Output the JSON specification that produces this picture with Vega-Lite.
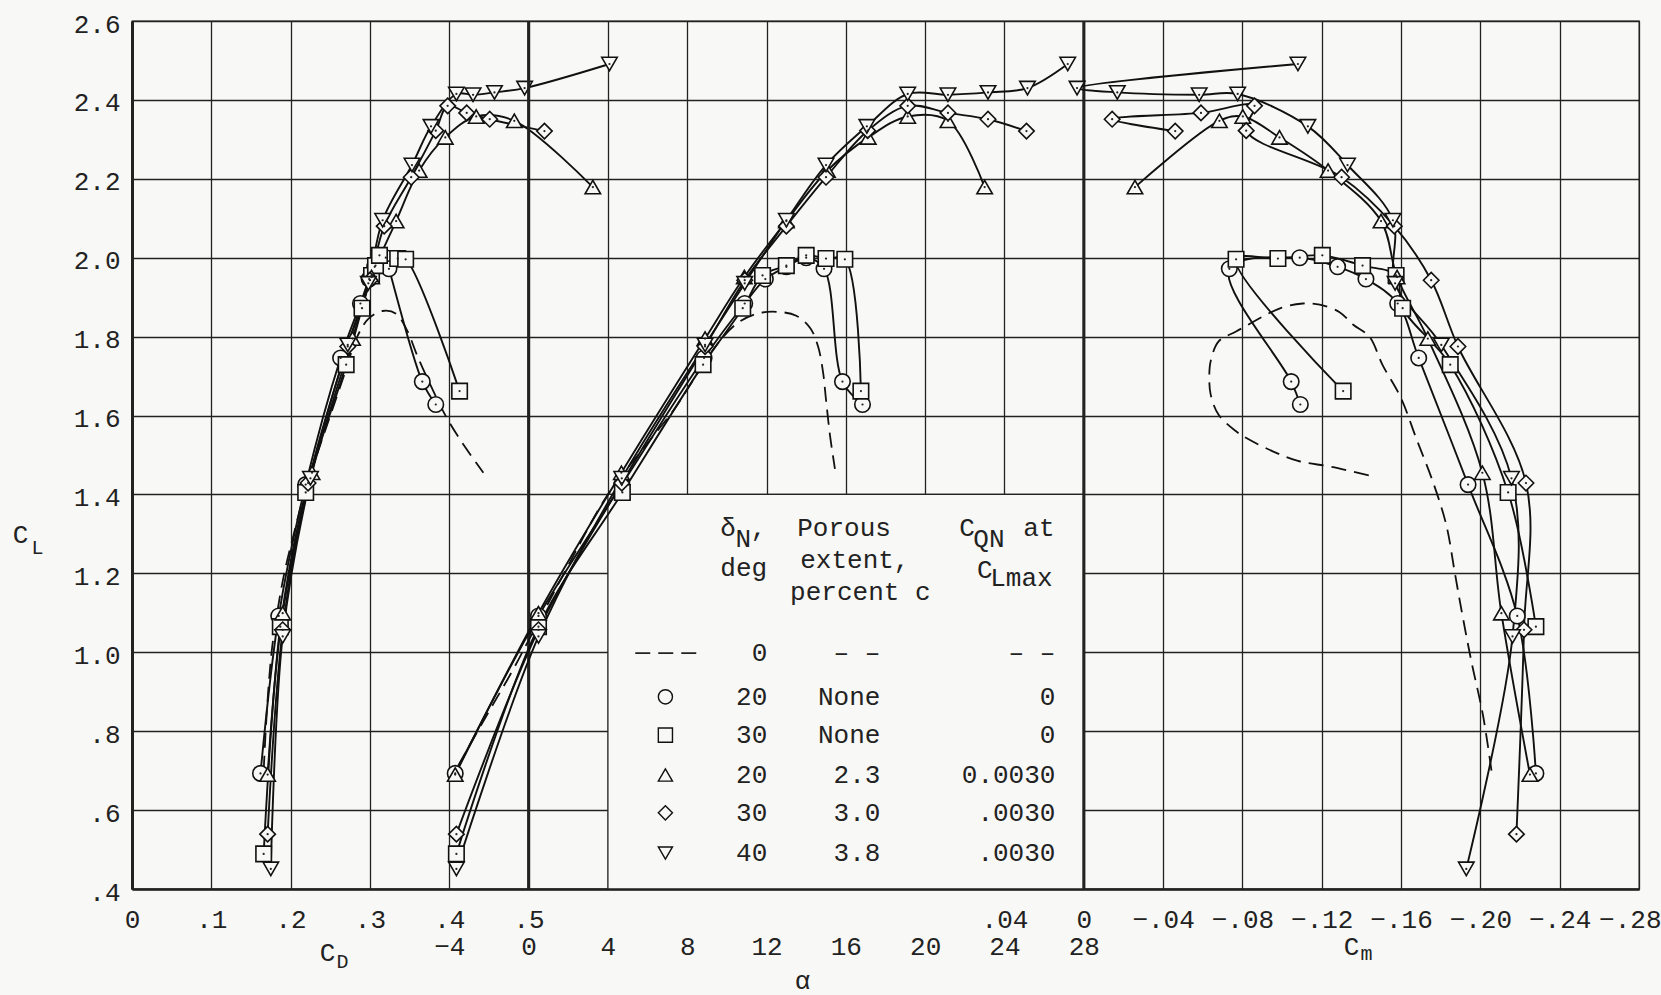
{
"$schema":"https://vega.github.io/schema/vega-lite/v6.json",
"width":1507,"height":868,
"autosize":{"type":"none"},
"padding":{"left":132,"top":21,"right":22,"bottom":106},
"background":"#f8f8f6",
"config":{
 "font":"Liberation Mono",
 "view":{"stroke":"#222","strokeWidth":1.3},
 "axis":{"labelFont":"Liberation Mono","titleFont":"Liberation Mono","labelFontSize":26,"titleFontSize":26,"labelColor":"#222","titleColor":"#222","titleFontWeight":"normal","ticks":false,"gridColor":"#222","gridWidth":1.3,"gridOpacity":1,"domainColor":"#222","labelFlush":false,"labelOverlap":false},
 "text":{"font":"Liberation Mono","fontSize":26,"color":"#222"}
},
"datasets":{
 "pts":[
  {"s":"20-none","a":-3.7,"cl":0.693,"cd":0.162,"cm":-0.228},
  {"s":"20-none","a":0.5,"cl":1.092,"cd":0.185,"cm":-0.2186},
  {"s":"20-none","a":4.7,"cl":1.425,"cd":0.219,"cm":-0.1938},
  {"s":"20-none","a":8.85,"cl":1.746,"cd":0.263,"cm":-0.1689},
  {"s":"20-none","a":10.9,"cl":1.884,"cd":0.288,"cm":-0.1583},
  {"s":"20-none","a":11.94,"cl":1.946,"cd":0.299,"cm":-0.1423},
  {"s":"20-none","a":13.0,"cl":1.977,"cd":0.306,"cm":-0.128},
  {"s":"20-none","a":14.0,"cl":2.0,"cd":0.32,"cm":-0.1089},
  {"s":"20-none","a":14.9,"cl":1.972,"cd":0.324,"cm":-0.0734},
  {"s":"20-none","a":15.83,"cl":1.686,"cd":0.366,"cm":-0.1046},
  {"s":"20-none","a":16.84,"cl":1.628,"cd":0.383,"cm":-0.1092},
  {"s":"30-none","a":-3.64,"cl":0.489,"cd":0.166,"cm":null},
  {"s":"30-none","a":0.5,"cl":1.065,"cd":0.187,"cm":-0.228},
  {"s":"30-none","a":4.73,"cl":1.405,"cd":0.219,"cm":-0.214},
  {"s":"30-none","a":8.8,"cl":1.729,"cd":0.27,"cm":-0.1848},
  {"s":"30-none","a":10.8,"cl":1.872,"cd":0.29,"cm":-0.1608},
  {"s":"30-none","a":11.8,"cl":1.955,"cd":0.302,"cm":-0.1575},
  {"s":"30-none","a":13.0,"cl":1.98,"cd":0.307,"cm":-0.1406},
  {"s":"30-none","a":14.0,"cl":2.006,"cd":0.312,"cm":-0.1203},
  {"s":"30-none","a":15.0,"cl":1.998,"cd":0.335,"cm":-0.0979},
  {"s":"30-none","a":15.95,"cl":1.996,"cd":0.345,"cm":-0.0768},
  {"s":"30-none","a":16.76,"cl":1.662,"cd":0.413,"cm":-0.1308},
  {"s":"20-2.3","a":-3.7,"cl":0.69,"cd":0.171,"cm":-0.225},
  {"s":"20-2.3","a":0.5,"cl":1.099,"cd":0.19,"cm":-0.2106},
  {"s":"20-2.3","a":4.68,"cl":1.455,"cd":0.227,"cm":-0.201},
  {"s":"20-2.3","a":8.9,"cl":1.795,"cd":0.278,"cm":-0.1735},
  {"s":"20-2.3","a":10.88,"cl":1.951,"cd":0.302,"cm":-0.158},
  {"s":"20-2.3","a":13.0,"cl":2.093,"cd":0.333,"cm":-0.1499},
  {"s":"20-2.3","a":15.07,"cl":2.221,"cd":0.362,"cm":-0.1232},
  {"s":"20-2.3","a":17.13,"cl":2.305,"cd":0.395,"cm":-0.0987},
  {"s":"20-2.3","a":19.12,"cl":2.358,"cd":0.434,"cm":-0.0802},
  {"s":"20-2.3","a":21.15,"cl":2.347,"cd":0.482,"cm":-0.0684},
  {"s":"20-2.3","a":23.0,"cl":2.179,"cd":0.581,"cm":-0.0258},
  {"s":"30-3.0","a":-3.64,"cl":0.539,"cd":0.171,"cm":-0.2182},
  {"s":"30-3.0","a":0.5,"cl":1.057,"cd":0.19,"cm":-0.222},
  {"s":"30-3.0","a":4.7,"cl":1.429,"cd":0.222,"cm":-0.223},
  {"s":"30-3.0","a":8.9,"cl":1.775,"cd":0.272,"cm":-0.1887},
  {"s":"30-3.0","a":10.9,"cl":1.943,"cd":0.3,"cm":-0.1752},
  {"s":"30-3.0","a":13.0,"cl":2.08,"cd":0.318,"cm":-0.1566},
  {"s":"30-3.0","a":15.0,"cl":2.204,"cd":0.352,"cm":-0.13},
  {"s":"30-3.0","a":17.1,"cl":2.322,"cd":0.383,"cm":-0.0819},
  {"s":"30-3.0","a":19.12,"cl":2.385,"cd":0.398,"cm":-0.0861},
  {"s":"30-3.0","a":21.15,"cl":2.367,"cd":0.422,"cm":-0.0591},
  {"s":"30-3.0","a":23.17,"cl":2.351,"cd":0.451,"cm":-0.0143},
  {"s":"30-3.0","a":25.11,"cl":2.321,"cd":0.52,"cm":-0.0461},
  {"s":"40-3.8","a":-3.64,"cl":0.451,"cd":0.175,"cm":-0.1929},
  {"s":"40-3.8","a":0.5,"cl":1.04,"cd":0.19,"cm":-0.2162},
  {"s":"40-3.8","a":4.7,"cl":1.441,"cd":0.225,"cm":-0.2157},
  {"s":"40-3.8","a":8.9,"cl":1.779,"cd":0.272,"cm":-0.1803},
  {"s":"40-3.8","a":10.9,"cl":1.935,"cd":0.298,"cm":-0.157},
  {"s":"40-3.8","a":13.0,"cl":2.095,"cd":0.316,"cm":-0.1559},
  {"s":"40-3.8","a":15.0,"cl":2.235,"cd":0.353,"cm":-0.133},
  {"s":"40-3.8","a":17.06,"cl":2.333,"cd":0.377,"cm":-0.113},
  {"s":"40-3.8","a":19.12,"cl":2.415,"cd":0.409,"cm":-0.0776},
  {"s":"40-3.8","a":21.15,"cl":2.413,"cd":0.43,"cm":-0.0582},
  {"s":"40-3.8","a":23.17,"cl":2.419,"cd":0.457,"cm":-0.0169},
  {"s":"40-3.8","a":25.16,"cl":2.43,"cd":0.495,"cm":0.0034},
  {"s":"40-3.8","a":27.19,"cl":2.491,"cd":0.602,"cm":-0.108}
 ],
 "dash":[
  {"i":1,"cd":0.166,"cl":0.70},{"i":2,"cd":0.170,"cl":0.85},{"i":3,"cd":0.176,"cl":1.0},{"i":4,"cd":0.183,"cl":1.1},
  {"i":5,"cd":0.192,"cl":1.2},{"i":6,"cd":0.204,"cl":1.3},{"i":7,"cd":0.217,"cl":1.4},{"i":8,"cd":0.233,"cl":1.5},
  {"i":9,"cd":0.250,"cl":1.6},{"i":10,"cd":0.267,"cl":1.7},{"i":11,"cd":0.284,"cl":1.8},{"i":12,"cd":0.298,"cl":1.845},
  {"i":13,"cd":0.316,"cl":1.865},{"i":14,"cd":0.333,"cl":1.858},{"i":15,"cd":0.347,"cl":1.815},{"i":16,"cd":0.360,"cl":1.75},
  {"i":17,"cd":0.378,"cl":1.67},{"i":18,"cd":0.398,"cl":1.59},{"i":19,"cd":0.42,"cl":1.52},{"i":20,"cd":0.443,"cl":1.455},
  {"i":1,"a":-3.56,"cl":0.712},{"i":2,"a":-2,"cl":0.85},{"i":3,"a":-0.85,"cl":0.95},{"i":4,"a":0,"cl":1.03},
  {"i":5,"a":2,"cl":1.22},{"i":6,"a":4,"cl":1.40},{"i":7,"a":6,"cl":1.53},{"i":8,"a":7.4,"cl":1.62},
  {"i":9,"a":8.3,"cl":1.69},{"i":10,"a":9.5,"cl":1.78},{"i":11,"a":10.5,"cl":1.833},{"i":12,"a":11.5,"cl":1.858},
  {"i":13,"a":12.5,"cl":1.863},{"i":14,"a":13.5,"cl":1.853},{"i":15,"a":14.2,"cl":1.822},{"i":16,"a":14.6,"cl":1.775},
  {"i":17,"a":14.85,"cl":1.71},{"i":18,"a":15.0,"cl":1.64},{"i":19,"a":15.2,"cl":1.55},{"i":20,"a":15.45,"cl":1.465},
  {"i":1,"cm":-0.2056,"cl":0.70},{"i":2,"cm":-0.2013,"cl":0.841},{"i":3,"cm":-0.1955,"cl":0.976},{"i":4,"cm":-0.19,"cl":1.12},
  {"i":5,"cm":-0.187,"cl":1.205},{"i":6,"cm":-0.1828,"cl":1.323},{"i":7,"cm":-0.176,"cl":1.433},{"i":8,"cm":-0.1676,"cl":1.543},
  {"i":9,"cm":-0.16,"cl":1.644},{"i":10,"cm":-0.1507,"cl":1.728},{"i":11,"cm":-0.144,"cl":1.80},{"i":12,"cm":-0.1359,"cl":1.83},
  {"i":13,"cm":-0.129,"cl":1.862},{"i":14,"cm":-0.119,"cl":1.881},{"i":15,"cm":-0.1105,"cl":1.884},{"i":16,"cm":-0.0996,"cl":1.873},
  {"i":17,"cm":-0.0768,"cl":1.813},{"i":18,"cm":-0.068,"cl":1.788},{"i":19,"cm":-0.064,"cl":1.738},{"i":20,"cm":-0.0633,"cl":1.704},
  {"i":21,"cm":-0.064,"cl":1.653},{"i":22,"cm":-0.068,"cl":1.602},{"i":23,"cm":-0.0768,"cl":1.56},{"i":24,"cm":-0.082,"cl":1.543},
  {"i":25,"cm":-0.095,"cl":1.51},{"i":26,"cm":-0.108,"cl":1.485},{"i":27,"cm":-0.125,"cl":1.47},{"i":28,"cm":-0.145,"cl":1.447}
 ],
 "legend":[
  {"s":"0","cl":0.998,"dn":"0","pe":"– –","cq":"– –\u00a0"},
  {"s":"20-none","cl":0.887,"dn":"20","pe":"None","cq":"0\u00a0\u00a0"},
  {"s":"30-none","cl":0.79,"dn":"30","pe":"None","cq":"0\u00a0\u00a0"},
  {"s":"20-2.3","cl":0.689,"dn":"20","pe":"2.3","cq":"0.0030"},
  {"s":"30-3.0","cl":0.593,"dn":"30","pe":"3.0","cq":".0030"},
  {"s":"40-3.8","cl":0.491,"dn":"40","pe":"3.8","cq":".0030"}
 ],
 "hdr":[
  {"t":"δ","a":9.67,"cl":1.315},
  {"t":"N","a":10.43,"cl":1.287},
  {"t":",","a":11.2,"cl":1.315},
  {"t":"deg","a":9.67,"cl":1.214},
  {"t":"Porous","a":13.55,"cl":1.315},
  {"t":"extent,","a":13.7,"cl":1.234},
  {"t":"percent c","a":13.19,"cl":1.154},
  {"t":"C","a":21.72,"cl":1.315},
  {"t":"QN","a":22.43,"cl":1.287},
  {"t":"at","a":24.95,"cl":1.315},
  {"t":"C","a":22.62,"cl":1.209},
  {"t":"Lmax","a":23.28,"cl":1.188}
 ]
},
"resolve":{"scale":{"x":"independent"},"axis":{"x":"independent"}},
"layer":[
 {"data":{"name":"pts"},"transform":[{"filter":"isValid(datum.cd)"}],
  "mark":{"type":"line","interpolate":"catmull-rom","color":"#111","strokeWidth":1.9},
  "encoding":{
   "x":{"field":"cd","type":"quantitative","scale":{"domain":[0,1.9],"nice":false,"zero":false},
    "axis":{"orient":"bottom","values":[0,0.1,0.2,0.3,0.4,0.5,0.6,0.7,0.8,0.9,1.0,1.1,1.2,1.3,1.4,1.5,1.6,1.7,1.8,1.9],"grid":true,"domain":true,"domainWidth":2.5,"labelPadding":30,"labelBaseline":"middle","labelExpr":"datum.value > 0.55 ? '' : (datum.value == 0 ? '0' : replace(format(datum.value, '.1f'), '0.', '.'))","title":"C","titleX":195,"titleY":63,"titleAlign":"center","titleBaseline":"middle"}},
   "y":{"field":"cl","type":"quantitative","scale":{"domain":[0.4,2.6],"nice":false,"zero":false},
    "axis":{"orient":"left","values":[0.4,0.6,0.8,1.0,1.2,1.4,1.6,1.8,2.0,2.2,2.4,2.6],"grid":true,"domain":true,"domainWidth":3,"labelPadding":12,"labelOffset":3,"labelBaseline":"middle","labelExpr":"datum.value < 0.99 ? replace(format(datum.value, '.1f'), '0.', '.') : format(datum.value, '.1f')","title":"C","titleAngle":0,"titleX":-112,"titleY":513,"titleAlign":"center","titleBaseline":"middle"}},
   "detail":{"field":"s","type":"nominal"},
   "order":{"field":"a","type":"quantitative"}}},
 {"data":{"name":"dash"},"transform":[{"filter":"isValid(datum.cd)"}],
  "mark":{"type":"line","interpolate":"catmull-rom","color":"#111","strokeWidth":1.8,"strokeDash":[15,8]},
  "encoding":{
   "x":{"field":"cd","type":"quantitative","scale":{"domain":[0,1.9],"nice":false,"zero":false},
    "axis":{"orient":"bottom","labels":false,"grid":false,"domain":false,"ticks":false,"values":[0],"title":"D","titleFontSize":20,"titleX":210,"titleY":72,"titleAlign":"center","titleBaseline":"middle"}},
   "y":{"field":"cl","type":"quantitative","scale":{"domain":[0.4,2.6],"nice":false,"zero":false}},
   "order":{"field":"i","type":"quantitative"}}},
 {"data":{"name":"pts"},"transform":[{"filter":"isValid(datum.cd)"}],
  "mark":{"type":"point","filled":true,"fill":"#f8f8f6","stroke":"#111","strokeWidth":1.6,"size":240,"opacity":1},
  "encoding":{
   "x":{"field":"cd","type":"quantitative","scale":{"domain":[0,1.9],"nice":false,"zero":false},
    "axis":{"orient":"bottom","labels":false,"grid":false,"domain":false,"ticks":false,"values":[0],"title":"L","titleFontSize":20,"titleX":-95,"titleY":-342,"titleAlign":"center","titleBaseline":"middle"}},
   "y":{"field":"cl","type":"quantitative","scale":{"domain":[0.4,2.6],"nice":false,"zero":false}},
   "shape":{"field":"s","type":"nominal","scale":{"domain":["20-none","30-none","20-2.3","30-3.0","40-3.8"],"range":["circle","square","triangle-up","diamond","triangle-down"]},"legend":null}}},
 {"data":{"name":"pts"},"transform":[{"filter":"isValid(datum.cd)"}],
  "mark":{"type":"point","shape":"circle","filled":true,"color":"#222","size":5,"opacity":1},
  "encoding":{
   "x":{"field":"cd","type":"quantitative","scale":{"domain":[0,1.9],"nice":false,"zero":false},"axis":null},
   "y":{"field":"cl","type":"quantitative","scale":{"domain":[0.4,2.6],"nice":false,"zero":false}}}},
 {"data":{"values":[{}]},
  "mark":{"type":"rect","fill":"#f8f8f6","stroke":"#222","strokeWidth":1.3},
  "encoding":{
   "x":{"datum":4,"type":"quantitative","scale":{"domain":[-20,56],"nice":false,"zero":false},
    "axis":{"orient":"bottom","values":[-4,0,4,8,12,16,20,24,28],"grid":false,"domain":false,"labelPadding":57,"labelBaseline":"middle","title":"α","titleX":670,"titleY":91,"titleAlign":"center","titleBaseline":"middle"}},
   "x2":{"datum":28},
   "y":{"datum":0.4,"type":"quantitative","scale":{"domain":[0.4,2.6],"nice":false,"zero":false}},
   "y2":{"datum":1.4}}},
 {"data":{"values":[{}]},
  "mark":{"type":"rule","color":"#222","strokeWidth":3},
  "encoding":{"x":{"datum":0,"type":"quantitative","scale":{"domain":[-20,56],"nice":false,"zero":false},"axis":null}}},
 {"data":{"name":"pts"},"transform":[{"filter":"isValid(datum.a)"}],
  "mark":{"type":"line","interpolate":"catmull-rom","color":"#111","strokeWidth":1.9},
  "encoding":{
   "x":{"field":"a","type":"quantitative","scale":{"domain":[-20,56],"nice":false,"zero":false},"axis":null},
   "y":{"field":"cl","type":"quantitative","scale":{"domain":[0.4,2.6],"nice":false,"zero":false}},
   "detail":{"field":"s","type":"nominal"},
   "order":{"field":"a","type":"quantitative"}}},
 {"data":{"name":"dash"},"transform":[{"filter":"isValid(datum.a)"}],
  "mark":{"type":"line","interpolate":"catmull-rom","color":"#111","strokeWidth":1.8,"strokeDash":[15,8]},
  "encoding":{
   "x":{"field":"a","type":"quantitative","scale":{"domain":[-20,56],"nice":false,"zero":false},"axis":null},
   "y":{"field":"cl","type":"quantitative","scale":{"domain":[0.4,2.6],"nice":false,"zero":false}},
   "order":{"field":"i","type":"quantitative"}}},
 {"data":{"name":"pts"},"transform":[{"filter":"isValid(datum.a)"}],
  "mark":{"type":"point","filled":true,"fill":"#f8f8f6","stroke":"#111","strokeWidth":1.6,"size":240,"opacity":1},
  "encoding":{
   "x":{"field":"a","type":"quantitative","scale":{"domain":[-20,56],"nice":false,"zero":false},"axis":null},
   "y":{"field":"cl","type":"quantitative","scale":{"domain":[0.4,2.6],"nice":false,"zero":false}},
   "shape":{"field":"s","type":"nominal","scale":{"domain":["20-none","30-none","20-2.3","30-3.0","40-3.8"],"range":["circle","square","triangle-up","diamond","triangle-down"]},"legend":null}}},
 {"data":{"name":"pts"},"transform":[{"filter":"isValid(datum.a)"}],
  "mark":{"type":"point","shape":"circle","filled":true,"color":"#222","size":5,"opacity":1},
  "encoding":{
   "x":{"field":"a","type":"quantitative","scale":{"domain":[-20,56],"nice":false,"zero":false},"axis":null},
   "y":{"field":"cl","type":"quantitative","scale":{"domain":[0.4,2.6],"nice":false,"zero":false}}}},
 {"data":{"values":[{}]},
  "mark":{"type":"rule","color":"#222","strokeWidth":1.8,"strokeDash":[15,8]},
  "encoding":{
   "x":{"datum":5.38,"type":"quantitative","scale":{"domain":[-20,56],"nice":false,"zero":false},"axis":null},
   "x2":{"datum":8.51},
   "y":{"datum":0.998,"type":"quantitative","scale":{"domain":[0.4,2.6],"nice":false,"zero":false}}}},
 {"data":{"name":"legend"},"transform":[{"filter":"datum.s != '0'"}],
  "mark":{"type":"point","filled":true,"fill":"#f8f8f6","stroke":"#111","strokeWidth":1.4,"size":200,"opacity":1},
  "encoding":{
   "x":{"datum":6.9,"type":"quantitative","scale":{"domain":[-20,56],"nice":false,"zero":false},"axis":null},
   "y":{"field":"cl","type":"quantitative","scale":{"domain":[0.4,2.6],"nice":false,"zero":false}},
   "shape":{"field":"s","type":"nominal","scale":{"domain":["20-none","30-none","20-2.3","30-3.0","40-3.8"],"range":["circle","square","triangle-up","diamond","triangle-down"]},"legend":null}}},
 {"data":{"name":"legend"},
  "mark":{"type":"text","align":"right","baseline":"middle","font":"Liberation Mono","fontSize":26,"color":"#222"},
  "encoding":{
   "x":{"datum":12.04,"type":"quantitative","scale":{"domain":[-20,56],"nice":false,"zero":false},"axis":null},
   "y":{"field":"cl","type":"quantitative","scale":{"domain":[0.4,2.6],"nice":false,"zero":false}},
   "text":{"field":"dn"}}},
 {"data":{"name":"legend"},
  "mark":{"type":"text","align":"right","baseline":"middle","font":"Liberation Mono","fontSize":26,"color":"#222"},
  "encoding":{
   "x":{"datum":17.74,"type":"quantitative","scale":{"domain":[-20,56],"nice":false,"zero":false},"axis":null},
   "y":{"field":"cl","type":"quantitative","scale":{"domain":[0.4,2.6],"nice":false,"zero":false}},
   "text":{"field":"pe"}}},
 {"data":{"name":"legend"},
  "mark":{"type":"text","align":"right","baseline":"middle","font":"Liberation Mono","fontSize":26,"color":"#222"},
  "encoding":{
   "x":{"datum":26.57,"type":"quantitative","scale":{"domain":[-20,56],"nice":false,"zero":false},"axis":null},
   "y":{"field":"cl","type":"quantitative","scale":{"domain":[0.4,2.6],"nice":false,"zero":false}},
   "text":{"field":"cq"}}},
 {"data":{"name":"hdr"},
  "mark":{"type":"text","align":"left","baseline":"middle","font":"Liberation Mono","fontSize":26,"color":"#222"},
  "encoding":{
   "x":{"field":"a","type":"quantitative","scale":{"domain":[-20,56],"nice":false,"zero":false},"axis":null},
   "y":{"field":"cl","type":"quantitative","scale":{"domain":[0.4,2.6],"nice":false,"zero":false}},
   "text":{"field":"t"}}},
 {"data":{"values":[{}]},
  "mark":{"type":"rule","color":"#222","strokeWidth":3},
  "encoding":{"x":{"datum":0,"type":"quantitative","scale":{"domain":[-0.28,0.48],"reverse":true,"nice":false,"zero":false},
    "axis":{"orient":"bottom","values":[0.04,0,-0.04,-0.08,-0.12,-0.16,-0.2,-0.24,-0.28],"grid":false,"domain":false,"labelPadding":30,"labelBaseline":"middle","labelFlush":true,"labelFlushOffset":22,"labelExpr":"datum.value == 0 ? '0' : replace(format(datum.value, '.2f'), '0.', '.')","title":"C","titleX":1219,"titleY":57,"titleAlign":"center","titleBaseline":"middle"}}}},
 {"data":{"name":"pts"},"transform":[{"filter":"isValid(datum.cm)"}],
  "mark":{"type":"line","interpolate":"catmull-rom","color":"#111","strokeWidth":1.9},
  "encoding":{
   "x":{"field":"cm","type":"quantitative","scale":{"domain":[-0.28,0.48],"reverse":true,"nice":false,"zero":false},"axis":null},
   "y":{"field":"cl","type":"quantitative","scale":{"domain":[0.4,2.6],"nice":false,"zero":false}},
   "detail":{"field":"s","type":"nominal"},
   "order":{"field":"a","type":"quantitative"}}},
 {"data":{"name":"dash"},"transform":[{"filter":"isValid(datum.cm)"}],
  "mark":{"type":"line","interpolate":"catmull-rom","color":"#111","strokeWidth":1.8,"strokeDash":[15,8]},
  "encoding":{
   "x":{"field":"cm","type":"quantitative","scale":{"domain":[-0.28,0.48],"reverse":true,"nice":false,"zero":false},
    "axis":{"orient":"bottom","labels":false,"grid":false,"domain":false,"ticks":false,"values":[0],"title":"m","titleFontSize":20,"titleX":1234,"titleY":64,"titleAlign":"center","titleBaseline":"middle"}},
   "y":{"field":"cl","type":"quantitative","scale":{"domain":[0.4,2.6],"nice":false,"zero":false}},
   "order":{"field":"i","type":"quantitative"}}},
 {"data":{"name":"pts"},"transform":[{"filter":"isValid(datum.cm)"}],
  "mark":{"type":"point","filled":true,"fill":"#f8f8f6","stroke":"#111","strokeWidth":1.6,"size":240,"opacity":1},
  "encoding":{
   "x":{"field":"cm","type":"quantitative","scale":{"domain":[-0.28,0.48],"reverse":true,"nice":false,"zero":false},"axis":null},
   "y":{"field":"cl","type":"quantitative","scale":{"domain":[0.4,2.6],"nice":false,"zero":false}},
   "shape":{"field":"s","type":"nominal","scale":{"domain":["20-none","30-none","20-2.3","30-3.0","40-3.8"],"range":["circle","square","triangle-up","diamond","triangle-down"]},"legend":null}}},
 {"data":{"name":"pts"},"transform":[{"filter":"isValid(datum.cm)"}],
  "mark":{"type":"point","shape":"circle","filled":true,"color":"#222","size":5,"opacity":1},
  "encoding":{
   "x":{"field":"cm","type":"quantitative","scale":{"domain":[-0.28,0.48],"reverse":true,"nice":false,"zero":false},"axis":null},
   "y":{"field":"cl","type":"quantitative","scale":{"domain":[0.4,2.6],"nice":false,"zero":false}}}}
]
}
